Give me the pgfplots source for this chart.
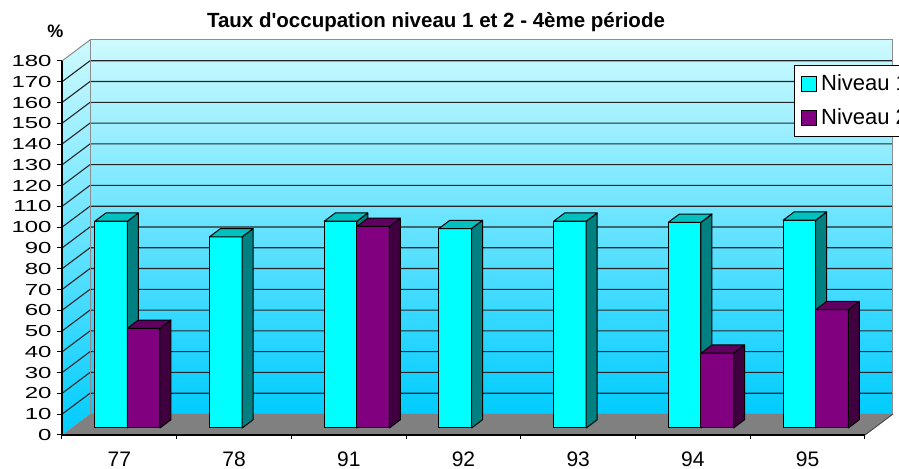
\documentclass[border=0pt]{standalone}
\usepackage{fontspec}
\setmainfont{Liberation Sans}
\usepackage{pgfplots}
\pgfplotsset{compat=1.18}
\usepackage{pgfplotstable}
\usetikzlibrary{calc}

\definecolor{cyF}{RGB}{0,255,255}
\definecolor{cyS}{RGB}{0,128,128}
\definecolor{cyT}{RGB}{0,192,192}
\definecolor{puF}{RGB}{128,0,128}
\definecolor{puS}{RGB}{64,0,64}
\definecolor{puT}{RGB}{96,0,96}
\definecolor{wallT}{RGB}{205,250,255}
\definecolor{wallM}{RGB}{125,222,255}
\definecolor{wallB}{RGB}{0,204,255}
\definecolor{floorC}{RGB}{128,128,128}
\definecolor{edgeC}{RGB}{140,140,140}

\pgfdeclareplotmark{nothing}{}

\pgfplotstableread{
x n1 n2
0 99.5 48
1 92 nan
2 99.5 97
3 96 nan
4 99.5 nan
5 99 36
6 100 57
}\data

% #1 x offset, #2 front, #3 side, #4 top
\newcommand\barcode[4]{%
  \pgfmathsetlengthmacro\xa{#1-8.15pt}%
  \pgfmathsetlengthmacro\xb{#1+8.15pt}%
  \pgfmathsetlengthmacro\xc{#1+13.65pt}%
  \pgfmathsetlengthmacro\xd{#1-2.65pt}%
  \pgfmathsetlengthmacro\ya{3.5pt-\val*1.03889pt}%
  \pgfmathsetlengthmacro\yc{7.625pt-\val*1.03889pt}%
  \filldraw[fill=#2, draw=black, line width=0.5pt, line join=round] (\xa,\ya) rectangle (\xb,3.5pt);
  \filldraw[fill=#3, draw=black, line width=0.5pt, line join=round] (\xb,\ya) -- (\xc,\yc) -- (\xc,7.625pt) -- (\xb,3.5pt) -- cycle;
  \filldraw[fill=#4, draw=black, line width=0.5pt, line join=round] (\xa,3.5pt) -- (\xb,3.5pt) -- (\xc,7.625pt) -- (\xd,7.625pt) -- cycle;
}

\begin{document}
\begin{tikzpicture}
\path[use as bounding box] (0,0) rectangle (449.5pt,234.5pt);
\clip (0,0) rectangle (449.5pt,234.5pt);
\begin{axis}[
  at={(31pt,17pt)}, anchor=south west,
  x=57.357pt, y=1.03889pt,
  xmin=-0.5, xmax=6.5, ymin=0, ymax=180,
  axis lines*=left,
  axis line style={black, line width=0.6pt},
  clip=false,
  axis on top,
  tick align=outside,
  tick style={black, line width=0.5pt},
  xtick={0,...,6},
  xticklabels={77,78,91,92,93,94,95},
  major x tick style={draw=none},
  minor xtick={-0.5,0.5,...,6.5},
  minor tick length=2.2pt,
  ytick={0,10,...,180},
  major tick length=2.5pt,
  /pgf/number format/assume math mode=true,
  yticklabel={\scalebox{1.5}[1]{\fontsize{8}{9}\selectfont\pgfmathprintnumber{\tick}}},
  yticklabel style={anchor=east, inner sep=0pt, xshift=-2.5pt},
  xticklabel style={font=\fontsize{10.5}{12}\selectfont, anchor=base, inner sep=0pt, yshift=-13.5pt},
  legend style={at={(0.9116,0.9893)}, anchor=north west, draw=black, fill=white,
    line width=0.5pt, font=\fontsize{11}{13}\selectfont,
    inner xsep=3.3pt, inner ysep=2.5pt, row sep=3.5pt, cells={anchor=west}},
]
% back wall
\shade[top color=wallT, middle color=wallM, bottom color=wallB]
  ($(axis cs:-0.5,0)+(14pt,10.5pt)$) rectangle ($(axis cs:6.5,180)+(14pt,10.5pt)$);
% left wall
\shade[top color=wallT, middle color=wallM, bottom color=wallB]
  (axis cs:-0.5,0) -- (axis cs:-0.5,180) -- ($(axis cs:-0.5,180)+(14pt,10.5pt)$) -- ($(axis cs:-0.5,0)+(14pt,10.5pt)$) -- cycle;
% floor
\fill[floorC] (axis cs:-0.5,0) -- (axis cs:6.5,0) -- ($(axis cs:6.5,0)+(14pt,10.5pt)$) -- ($(axis cs:-0.5,0)+(14pt,10.5pt)$) -- cycle;
\draw[black!70, line width=0.5pt] (axis cs:6.5,0) -- ($(axis cs:6.5,0)+(14pt,10.5pt)$);
% grid lines
\pgfplotsinvokeforeach{10,20,...,170}{
  \draw[black!85, line width=0.55pt] (axis cs:-0.5,#1) -- ($(axis cs:-0.5,#1)+(14pt,10.5pt)$) -- ($(axis cs:6.5,#1)+(14pt,10.5pt)$);
}
% wall borders
\draw[edgeC, line width=0.5pt] ($(axis cs:-0.5,0)+(14pt,10.5pt)$) -- ($(axis cs:-0.5,180)+(14pt,10.5pt)$) -- ($(axis cs:6.5,180)+(14pt,10.5pt)$) -- ($(axis cs:6.5,0)+(14pt,10.5pt)$);
\draw[edgeC, line width=0.5pt] (axis cs:-0.5,180) -- ($(axis cs:-0.5,180)+(14pt,10.5pt)$);

\addplot[forget plot, scatter, only marks, mark=nothing,
  visualization depends on={rawy\as\val},
  scatter/@pre marker code/.code={\barcode{-4.133pt}{cyF}{cyS}{cyT}},
  scatter/@post marker code/.code={}]
  table[x=x, y=n1] {\data};
\addplot[forget plot, scatter, only marks, mark=nothing,
  visualization depends on={rawy\as\val},
  scatter/@pre marker code/.code={\barcode{12.167pt}{puF}{puS}{puT}},
  scatter/@post marker code/.code={}]
  table[x=x, y=n2] {\data};

\addlegendimage{legend image code/.code={\draw[fill=cyF, draw=black, line width=0.5pt] (0pt,-3.6pt) rectangle (7.5pt,3.6pt);}}
\addlegendentry{Niveau 1}
\addlegendimage{legend image code/.code={\draw[fill=puF, draw=black, line width=0.5pt] (0pt,-3.6pt) rectangle (7.5pt,3.6pt);}}
\addlegendentry{Niveau 2}
\end{axis}
\node[anchor=base, font=\bfseries\fontsize{10.25}{12}\selectfont, inner sep=0pt] at (218pt,220.65pt) {Taux d\textquotesingle occupation niveau 1 et 2 - 4ème période};
\node[font=\bfseries\fontsize{9}{10}\selectfont, inner sep=0pt] at (27.7pt,218.6pt) {\%};
\end{tikzpicture}
\end{document}
